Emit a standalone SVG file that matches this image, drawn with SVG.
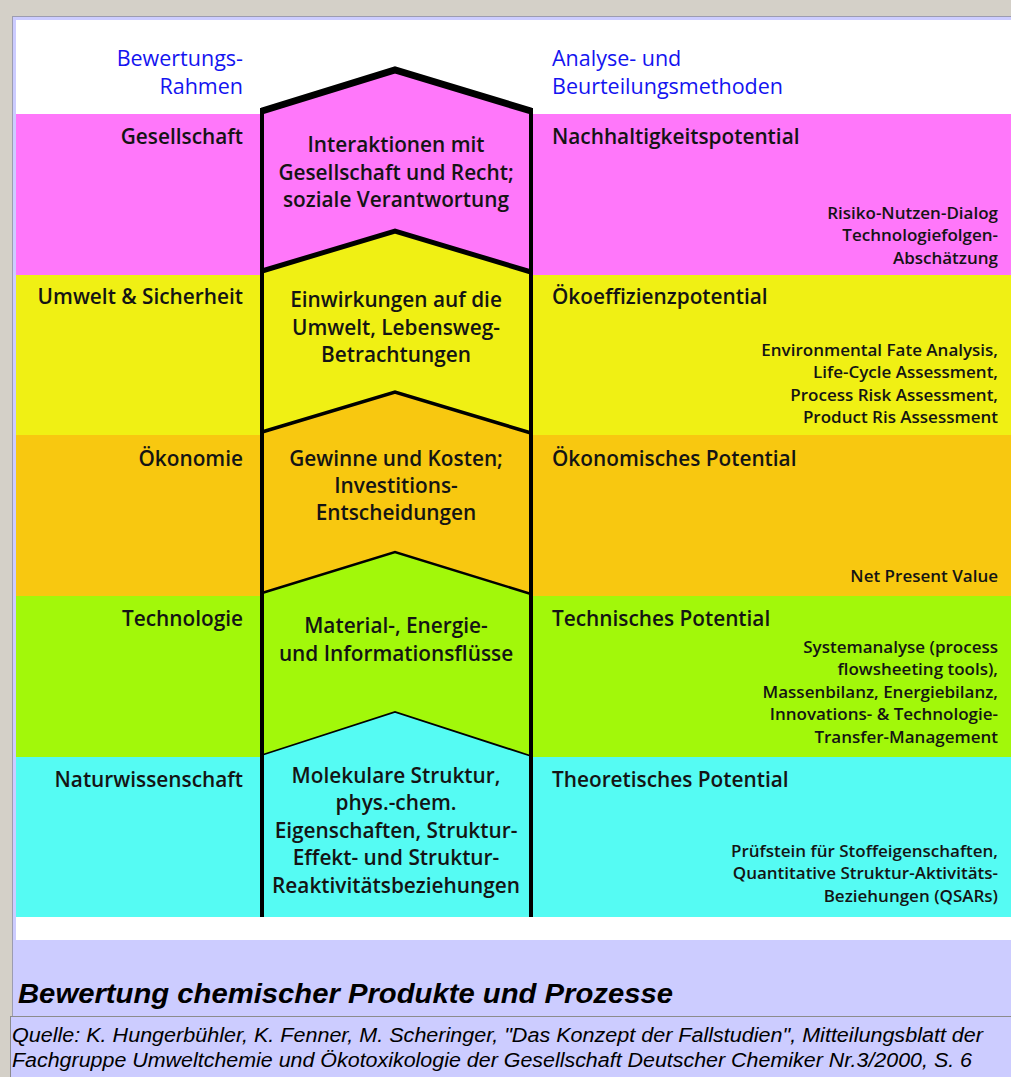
<svg xmlns="http://www.w3.org/2000/svg" width="1011" height="1077" viewBox="0 0 1011 1077">
<style>
  .t { font-family: "Open Sans", "Noto Sans", sans-serif; font-size: 20.8px; font-weight: 600; fill: #141414; }
  .s { font-family: "Open Sans", "Noto Sans", sans-serif; font-size: 17px; font-weight: 600; fill: #141414; text-anchor: end; }
  .h { font-family: "Open Sans", "Noto Sans", sans-serif; font-size: 21.5px; fill: #1414f0; }
  .l { text-anchor: end; }
  .c { text-anchor: middle; }
  .line { fill: none; stroke: #000; stroke-linejoin: miter; }
  .cap { font-family: "Liberation Sans", Arial, sans-serif; font-style: italic; fill: #000; }
</style>
<rect x="0" y="0" width="1011" height="1077" fill="#d4d0c8"/>
<rect x="12.5" y="16.5" width="1010" height="1000" fill="#ccccff" stroke="#9c9cb0"/>
<rect x="16" y="20" width="995" height="920" fill="#ffffff"/>
<rect x="10.5" y="1016.5" width="1010" height="70" fill="#ccccff" stroke="#8c8c8c"/>

<g id="bands">
  <rect x="16" y="114" width="995" height="161" fill="#ff77fa"/>
  <rect x="16" y="275" width="995" height="160" fill="#f0f014"/>
  <rect x="16" y="435" width="995" height="161" fill="#f8c810"/>
  <rect x="16" y="596" width="995" height="161" fill="#a2f80a"/>
  <rect x="16" y="757" width="995" height="160" fill="#55fbf3"/>
</g>

<g id="column">
  <polygon points="262,111 395,70 531,111 531,272 395,231 262,271" fill="#ff77fa"/>
  <polygon points="262,271 395,231 531,272 531,433 395,392 262,432" fill="#f0f014"/>
  <polygon points="262,432 395,392 531,433 531,594 395,552 262,593" fill="#f8c810"/>
  <polygon points="262,593 395,552 531,594 531,756 395,712 262,755" fill="#a2f80a"/>
  <polygon points="262,755 395,712 531,756 531,917 262,917" fill="#55fbf3"/>
</g>

<g id="connectors">
  <polyline class="line" points="262,111 395,70 531,111" stroke-width="7"/>
  <polyline class="line" points="262,271 395,231 531,272" stroke-width="5"/>
  <polyline class="line" points="262,432 395,392 531,433" stroke-width="3.5"/>
  <polyline class="line" points="262,593 395,552 531,594" stroke-width="2.5"/>
  <polyline class="line" points="262,755 395,712 531,756" stroke-width="1.8"/>
  <line class="line" x1="262" y1="108" x2="262" y2="917" stroke-width="4"/>
  <line class="line" x1="531" y1="108" x2="531" y2="917" stroke-width="4"/>
</g>

<g id="header-left">
  <text class="h l" x="243" y="66">Bewertungs-</text>
  <text class="h l" x="243" y="94">Rahmen</text>
</g>
<g id="header-right">
  <text class="h" x="552" y="66">Analyse- und</text>
  <text class="h" x="552" y="94">Beurteilungsmethoden</text>
</g>

<g id="gesellschaft">
  <text class="t l" x="243" y="144">Gesellschaft</text>
  <text class="t c" x="396" y="152">Interaktionen mit</text>
  <text class="t c" x="396" y="180">Gesellschaft und Recht;</text>
  <text class="t c" x="396" y="207">soziale Verantwortung</text>
  <text class="t" x="552" y="144">Nachhaltigkeitspotential</text>
  <text class="s" x="998" y="219">Risiko-Nutzen-Dialog</text>
  <text class="s" x="998" y="241">Technologiefolgen-</text>
  <text class="s" x="998" y="264">Abschätzung</text>
</g>

<g id="umwelt">
  <text class="t l" x="243" y="304">Umwelt &amp; Sicherheit</text>
  <text class="t c" x="396" y="307">Einwirkungen auf die</text>
  <text class="t c" x="396" y="335">Umwelt, Lebensweg-</text>
  <text class="t c" x="396" y="362">Betrachtungen</text>
  <text class="t" x="552" y="304">Ökoeffizienzpotential</text>
  <text class="s" x="998" y="356">Environmental Fate Analysis,</text>
  <text class="s" x="998" y="378">Life-Cycle Assessment,</text>
  <text class="s" x="998" y="401">Process Risk Assessment,</text>
  <text class="s" x="998" y="423">Product Ris Assessment</text>
</g>

<g id="oekonomie">
  <text class="t l" x="243" y="466">Ökonomie</text>
  <text class="t c" x="396" y="466">Gewinne und Kosten;</text>
  <text class="t c" x="396" y="493">Investitions-</text>
  <text class="t c" x="396" y="520">Entscheidungen</text>
  <text class="t" x="552" y="466">Ökonomisches Potential</text>
  <text class="s" x="998" y="582">Net Present Value</text>
</g>

<g id="technologie">
  <text class="t l" x="243" y="626">Technologie</text>
  <text class="t c" x="396" y="633">Material-, Energie-</text>
  <text class="t c" x="396" y="661">und Informationsflüsse</text>
  <text class="t" x="552" y="626">Technisches Potential</text>
  <text class="s" x="998" y="653">Systemanalyse (process</text>
  <text class="s" x="998" y="675">flowsheeting tools),</text>
  <text class="s" x="998" y="698">Massenbilanz, Energiebilanz,</text>
  <text class="s" x="998" y="720">Innovations- &amp; Technologie-</text>
  <text class="s" x="998" y="743">Transfer-Management</text>
</g>

<g id="naturwissenschaft">
  <text class="t l" x="243" y="787">Naturwissenschaft</text>
  <text class="t c" x="396" y="783">Molekulare Struktur,</text>
  <text class="t c" x="396" y="810">phys.-chem.</text>
  <text class="t c" x="396" y="838">Eigenschaften, Struktur-</text>
  <text class="t c" x="396" y="865">Effekt- und Struktur-</text>
  <text class="t c" x="396" y="893">Reaktivitätsbeziehungen</text>
  <text class="t" x="552" y="787">Theoretisches Potential</text>
  <text class="s" x="998" y="857">Prüfstein für Stoffeigenschaften,</text>
  <text class="s" x="998" y="879">Quantitative Struktur-Aktivitäts-</text>
  <text class="s" x="998" y="902">Beziehungen (QSARs)</text>
</g>

<g id="caption">
  <text class="cap" x="18" y="1003" font-size="27" font-weight="bold" textLength="655" lengthAdjust="spacingAndGlyphs">Bewertung chemischer Produkte und Prozesse</text>
  <text class="cap" x="12" y="1042" font-size="20" textLength="971" lengthAdjust="spacingAndGlyphs">Quelle: K. Hungerbühler, K. Fenner, M. Scheringer, "Das Konzept der Fallstudien", Mitteilungsblatt der</text>
  <text class="cap" x="12" y="1067" font-size="20" textLength="960" lengthAdjust="spacingAndGlyphs">Fachgruppe Umweltchemie und Ökotoxikologie der Gesellschaft Deutscher Chemiker Nr.3/2000, S. 6</text>
</g>
</svg>
